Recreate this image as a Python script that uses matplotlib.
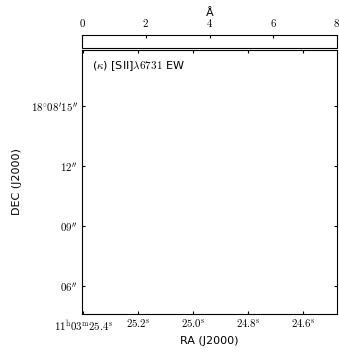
import matplotlib
matplotlib.use("Agg")
import matplotlib.pyplot as plt
from matplotlib.colors import ListedColormap
import numpy as np

plt.rcParams['mathtext.fontset'] = 'cm'
plt.rcParams['font.family'] = 'DejaVu Sans'

# Axis ranges (RA in seconds of 11h03m, Dec in arcsec of 18d08m)
ra_range = [25.404, 24.476]
dec_range = [4.6, 17.8]
ra_ticks = [25.4, 25.2, 25.0, 24.8, 24.6]
ra_labels = [r'$11^{\rm h}03^{\rm m}25.4^{\rm s}$', r'$25.2^{\rm s}$', r'$25.0^{\rm s}$',
             r'$24.8^{\rm s}$', r'$24.6^{\rm s}$']
dec_ticks = [15, 12, 9, 6]
dec_labels = [r"$18^{\circ}08'15''$", r"$12''$", r"$09''$", r"$06''$"]
cbar_ticks = [0, 2, 4, 6, 8]
cbar_range = [0, 8]

# empty EW map (no valid pixels)
ew_map = np.full((20, 20), np.nan)
white = ListedColormap(['white'])

fig = plt.figure(figsize=(3.39, 3.54), dpi=100)
ax = fig.add_axes([0.2419, 0.1130, 0.7522, 0.7458])
im = ax.imshow(ew_map, origin='lower', cmap=white, vmin=cbar_range[0], vmax=cbar_range[1],
               extent=[ra_range[0], ra_range[1], dec_range[0], dec_range[1]], aspect='auto')
ax.set_xlim(ra_range)
ax.set_ylim(dec_range)
ax.set_xticks(ra_ticks)
ax.set_xticklabels(ra_labels, fontsize=7.8)
ax.set_yticks(dec_ticks)
ax.set_yticklabels(dec_labels, fontsize=7.8)
ax.tick_params(direction='in', length=2.5, width=0.8, top=True, right=True, pad=3)
ax.set_xlabel('RA (J2000)', fontsize=8, labelpad=2)
ax.set_ylabel('DEC (J2000)', fontsize=8, labelpad=6)
ax.text(0.04, 0.965, r'($\kappa$) [SII]$\lambda6731$ EW', transform=ax.transAxes,
        fontsize=8, va='top', ha='left')

cax = fig.add_axes([0.2419, 0.8644, 0.7522, 0.0367])
cb = fig.colorbar(im, cax=cax, orientation='horizontal')
cb.set_ticks(cbar_ticks)
cb.set_ticklabels([r'$%d$' % t for t in cbar_ticks])
cax.xaxis.set_ticks_position('top')
cax.xaxis.set_label_position('top')
cax.tick_params(direction='in', length=2.5, width=0.8, labelsize=7.8, pad=4)
cb.outline.set_linewidth(0.8)
cb.set_label('Å', fontsize=8, labelpad=1)

fig.savefig('out.png', dpi=100)
